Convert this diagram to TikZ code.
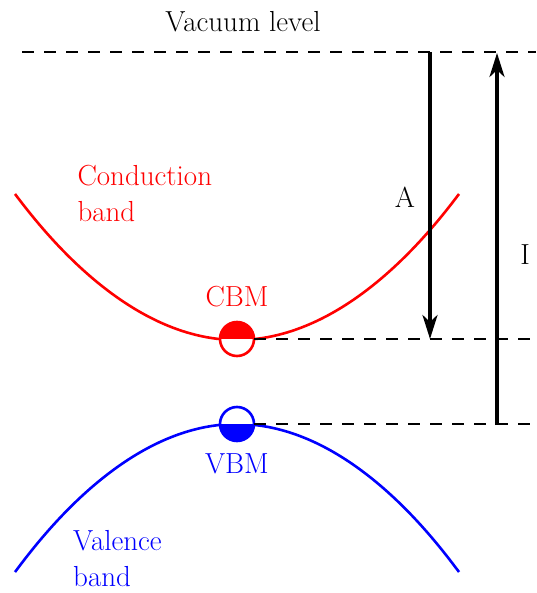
\documentclass[tikz,border=0pt]{standalone}
\usepackage{fontspec}
\usepackage{tikz}
\usetikzlibrary{arrows.meta}

\begin{document}
\begin{tikzpicture}[x=1pt,y=-1pt,
    dashline/.style={line width=2.2pt,dash pattern=on 12pt off 10pt},
    bandline/.style={line width=2.6pt},
    gaparrow/.style={line width=3.6pt,-{Stealth[length=24pt,width=15pt,inset=7pt]}},
    lbl/.style={font=\fontsize{29}{36}\selectfont},
    edge/.style={circle,line width=2.6pt,minimum size=34pt,inner sep=0pt,outer sep=0pt,fill=white}]
	\useasboundingbox (0,0) rectangle (536,593);
	% levels
	\coordinate (vacL) at (22,52);
	\coordinate (vacR) at (536,52);
	\coordinate (cbmR) at (536,339);
	\coordinate (vbmR) at (536,425);
	\node[lbl] (vac) at (243,22) {Vacuum level};
	\draw[dashline] (vacL) -- (vacR);
	% bands
	\draw[red,bandline] (15,194) parabola bend (237,340) (459,194);
	\draw[blue,bandline] (15,572) parabola bend (237,424) (459,572);
	\node[edge,draw=red,path picture={\fill[red] (path picture bounding box.north west) rectangle (path picture bounding box.east);}] (cbm) at (237,339) {};
	\node[edge,draw=blue,path picture={\fill[blue] (path picture bounding box.south west) rectangle (path picture bounding box.east);}] (vbm) at (237,424) {};
	\draw[dashline] (cbm.east) -- (cbm.east -| cbmR);
	\draw[dashline] (vbm.east) -- (vbm.east -| vbmR);
	\node[lbl,red] (cbmtxt) at (237,297) {CBM};
	\node[lbl,blue] (vbmtxt) at (237,464) {VBM};
	\node[lbl,red,align=left,anchor=west] (cband) at (74,193) {Conduction\\band};
	\node[lbl,blue,align=left,anchor=west,inner sep=1pt] (vband) at (72,559) {Valence\\band};
	% affinity and ionisation
	\coordinate (aTop) at (430,52);
	\coordinate (aBot) at (430,339);
	\coordinate (iBot) at (497,425);
	\coordinate (iTop) at (497,53);
	\draw[gaparrow] (aTop) -- (aBot);
	\draw[gaparrow] (iBot) -- (iTop);
	\node[lbl] (albl) at (405,197) {A};
	\node[lbl] (ilbl) at (525,255) {I};
\end{tikzpicture}
\end{document}
